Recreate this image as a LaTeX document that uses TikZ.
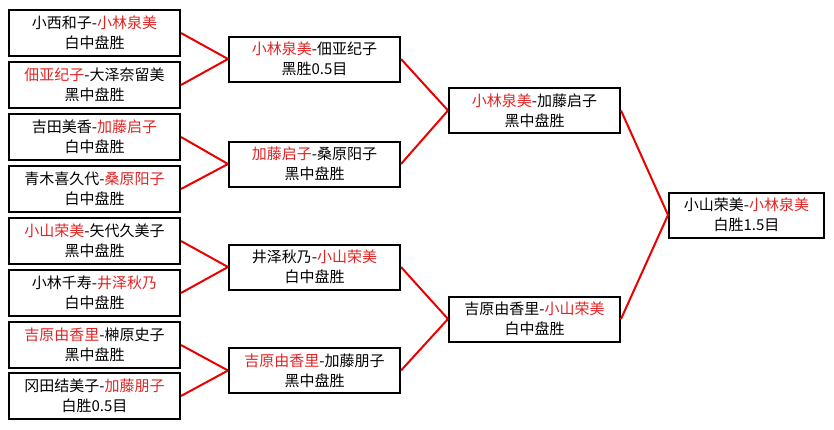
\documentclass[tikz,border=0pt]{standalone}
\usepackage{fontspec}
\setmainfont{Noto Sans CJK SC}
\definecolor{winred}{RGB}{225,35,35}
\definecolor{linkred}{RGB}{235,0,0}
\newcommand{\winner}[1]{\textcolor{winred}{#1}}
\begin{document}
\begin{tikzpicture}[
  x=1pt, y=-1pt,
  every node/.style={font=\fontsize{15}{20}\selectfont},
  game/.style={draw, line width=2pt, align=center, inner sep=0pt, minimum width=171pt, minimum height=46pt},
  final/.style={game, minimum width=155pt, minimum height=45pt},
  link/.style={draw=linkred, line width=2pt}
]
\useasboundingbox (0,0) rectangle (834,429);
% first round
\node[game] (g1) at (94.5,33) {小西和子-\winner{小林泉美}\\白中盘胜};
\node[game] (g2) at (94.5,85) {\winner{佃亚纪子}-大泽奈留美\\黑中盘胜};
\node[game] (g3) at (94.5,137) {吉田美香-\winner{加藤启子}\\白中盘胜};
\node[game] (g4) at (94.5,189) {青木喜久代-\winner{桑原阳子}\\白中盘胜};
\node[game] (g5) at (94.5,241) {\winner{小山荣美}-矢代久美子\\黑中盘胜};
\node[game] (g6) at (94.5,293) {小林千寿-\winner{井泽秋乃}\\白中盘胜};
\node[game] (g7) at (94.5,345) {\winner{吉原由香里}-榊原史子\\黑中盘胜};
\node[game] (g8) at (94.5,396) {冈田结美子-\winner{加藤朋子}\\白胜0.5目};
% quarter finals
\node[game, minimum height=45pt] (q1) at (314.5,59) {\winner{小林泉美}-佃亚纪子\\黑胜0.5目};
\node[game, minimum height=45pt] (q2) at (314.5,164) {\winner{加藤启子}-桑原阳子\\黑中盘胜};
\node[game, minimum height=45pt] (q3) at (314.5,267) {井泽秋乃-\winner{小山荣美}\\白中盘胜};
\node[game, minimum height=45pt] (q4) at (314.5,370.5) {\winner{吉原由香里}-加藤朋子\\黑中盘胜};
% semi finals
\node[game, minimum height=45pt] (s1) at (534.5,110.5) {\winner{小林泉美}-加藤启子\\黑中盘胜};
\node[game, minimum height=45pt] (s2) at (534.5,319) {吉原由香里-\winner{小山荣美}\\白中盘胜};
% final
\node[final] (f) at (746.5,215) {小山荣美-\winner{小林泉美}\\白胜1.5目};
\draw[link] (g1.east) -- (q1.west);
\draw[link] (g2.east) -- (q1.west);
\draw[link] (g3.east) -- (q2.west);
\draw[link] (g4.east) -- (q2.west);
\draw[link] (g5.east) -- (q3.west);
\draw[link] (g6.east) -- (q3.west);
\draw[link] (g7.east) -- (q4.west);
\draw[link] (g8.east) -- (q4.west);
\draw[link] (q1.east) -- (s1.west);
\draw[link] (q2.east) -- (s1.west);
\draw[link] (q3.east) -- (s2.west);
\draw[link] (q4.east) -- (s2.west);
\draw[link] (s1.east) -- (f.west);
\draw[link] (s2.east) -- (f.west);
\end{tikzpicture}
\end{document}
